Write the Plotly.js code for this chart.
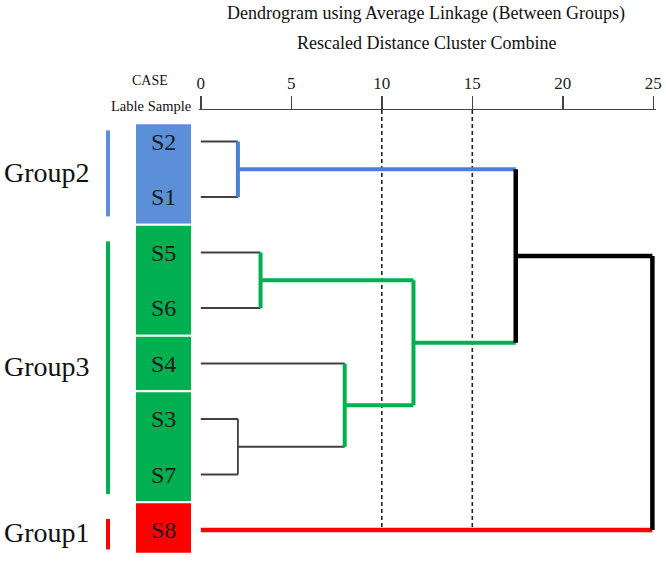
<!DOCTYPE html>
<html>
<head>
<meta charset="utf-8">
<script src="https://cdn.plot.ly/plotly-3.0.1.min.js"></script>
<style>
  html, body { margin: 0; padding: 0; background: #fff; }
  #chart { width: 666px; height: 567px; }
</style>
</head>
<body>
<div id="chart"></div>
<script>
// ---------------- data ----------------
const leaves = ['S2', 'S1', 'S5', 'S6', 'S4', 'S3', 'S7', 'S8'];
// merges (children are leaf names or "m<index>")
const mergeA = ['S2', 'S3', 'S5', 'S4', 'm2', 'm0', 'm5'];
const mergeB = ['S1', 'S7', 'S6', 'm1', 'm3', 'm4', 'S8'];
const mergeDist = [2.05, 2.05, 3.3, 7.95, 11.75, 17.4, 24.95];
const mergeStyle = ['blue', 'thin', 'green', 'green', 'green', 'black', 'black'];
const leafStyle = ['thin', 'thin', 'thin', 'thin', 'thin', 'thin', 'thin', 'red'];
const groupNames = ['Group2', 'Group3', 'Group1'];
const groupFirst = [0, 2, 7];
const groupLast = [1, 6, 7];
const groupColor = ['blue', 'green', 'red'];
const boxFirst = [0, 2, 4, 5, 7];
const boxLast = [1, 3, 4, 6, 7];
const boxColor = ['blue', 'green', 'green', 'green', 'red'];
const tickVals = [0, 5, 10, 15, 20, 25];
const thresholds = [10, 15];
const titleText = 'Dendrogram using Average Linkage (Between Groups)';
const subtitleText = 'Rescaled Distance Cluster Combine';

// ---------------- styles ----------------
const FONT = '"Liberation Serif", "Times New Roman", serif';
const lineStyles = {
  thin:  { color: '#404040', width: 1.8 },
  blue:  { color: '#4a80d3', width: 4 },
  green: { color: '#00b050', width: 4 },
  red:   { color: '#ff0000', width: 4.5 },
  black: { color: '#000000', width: 4.5 }
};
const fillColors = { blue: '#5b8fd7', green: '#00b050', red: '#ff0000' };

// ---------------- build dendrogram ----------------
const segs = {};
Object.keys(lineStyles).forEach(k => segs[k] = { x: [], y: [] });
function addSeg(style, x0, y0, x1, y1) {
  segs[style].x.push(x0, x1, null);
  segs[style].y.push(y0, y1, null);
}
const node = {};
leaves.forEach((l, i) => node[l] = { y: i, h: 0, style: leafStyle[i] });
mergeA.forEach((a, i) => {
  const A = node[a], B = node[mergeB[i]], h = mergeDist[i];
  addSeg(A.style, A.h, A.y, h, A.y);
  addSeg(B.style, B.h, B.y, h, B.y);
  addSeg(mergeStyle[i], h, A.y, h, B.y);
  node['m' + i] = { y: (A.y + B.y) / 2, h: h, style: mergeStyle[i] };
});

const yTop = -0.5676, yBot = 7.5405;
const traces = [];
thresholds.forEach(t => traces.push({
  x: [t, t], y: [yTop, 7], mode: 'lines', hoverinfo: 'skip', showlegend: false,
  line: { color: '#222', width: 1.6, dash: '4px,3px' }
}));
['thin', 'blue', 'green', 'red', 'black'].forEach(k => traces.push({
  x: segs[k].x, y: segs[k].y, mode: 'lines', hoverinfo: 'skip', showlegend: false,
  line: { color: lineStyles[k].color, width: lineStyles[k].width, shape: 'linear' }
}));

// ---------------- layout helpers ----------------
const L = 199, R = 10, T = 110, B = 7, W = 666 - L - R, H = 567 - T - B;
const px = x => (x - L) / W;
const py = y => (567 - B - y) / H;

const shapes = [];
const annotations = [];
// colored sample boxes
boxFirst.forEach((f, i) => {
  const y0 = (f === 0) ? -0.33 : f - 0.5;
  const y1 = (boxLast[i] === leaves.length - 1) ? 7.43 : boxLast[i] + 0.5;
  shapes.push({ type: 'rect', xref: 'paper', yref: 'y', x0: px(135), x1: px(192), y0: y0, y1: y1,
    fillcolor: fillColors[boxColor[i]], line: { color: '#ffffff', width: 2 }, layer: 'below' });
});
leaves.forEach((l, i) => annotations.push({
  xref: 'paper', yref: 'y', x: px(163), y: i, text: l, showarrow: false,
  xanchor: 'center', yanchor: 'middle', font: { family: FONT, size: 24, color: '#1a1a1a' }
}));
// group bars + labels
groupNames.forEach((g, i) => {
  shapes.push({ type: 'line', xref: 'paper', yref: 'y', x0: px(108), x1: px(108),
    y0: groupFirst[i] - 0.2, y1: groupLast[i] + 0.35,
    line: { color: fillColors[groupColor[i]], width: 4 } });
  annotations.push({ xref: 'paper', yref: 'y', x: px(47), y: (groupFirst[i] + groupLast[i]) / 2 + 0.05,
    text: g, showarrow: false, xanchor: 'center', yanchor: 'middle',
    font: { family: FONT, size: 28, color: '#111' } });
});
annotations.push({ xref: 'paper', yref: 'paper', x: px(426), y: py(13), text: titleText, showarrow: false,
  xanchor: 'center', yanchor: 'middle', font: { family: FONT, size: 18, color: '#111' } });
annotations.push({ xref: 'paper', yref: 'paper', x: px(426), y: py(43), text: subtitleText, showarrow: false,
  xanchor: 'center', yanchor: 'middle', font: { family: FONT, size: 18, color: '#111' } });
annotations.push({ xref: 'paper', yref: 'paper', x: px(150), y: py(81), text: 'CASE', showarrow: false,
  xanchor: 'center', yanchor: 'middle', font: { family: FONT, size: 14, color: '#111' } });
annotations.push({ xref: 'paper', yref: 'paper', x: px(193), y: py(106), text: 'Lable Sample', showarrow: false,
  xanchor: 'right', yanchor: 'middle', font: { family: FONT, size: 14.5, color: '#111' } });

const layout = {
  width: 666, height: 567,
  font: { family: FONT, size: 17, color: '#222' },
  margin: { l: L, r: R, t: T, b: B, pad: 0 },
  paper_bgcolor: '#fff', plot_bgcolor: '#fff',
  showlegend: false,
  xaxis: {
    range: [-0.1, 25.15], side: 'top', tickmode: 'array', tickvals: tickVals, ticktext: tickVals.map(String),
    ticks: 'outside', ticklen: 13, tickwidth: 1.5, tickcolor: '#444',
    showline: true, linecolor: '#444', linewidth: 1.5, showgrid: false, zeroline: false,
    tickfont: { family: FONT, size: 17, color: '#222' }, fixedrange: true
  },
  yaxis: {
    range: [yBot, yTop], showticklabels: false, ticks: '', showgrid: false, zeroline: false,
    showline: false, fixedrange: true
  },
  shapes: shapes,
  annotations: annotations
};

Plotly.newPlot('chart', traces, layout, { displayModeBar: false, staticPlot: true });
</script>
</body>
</html>
